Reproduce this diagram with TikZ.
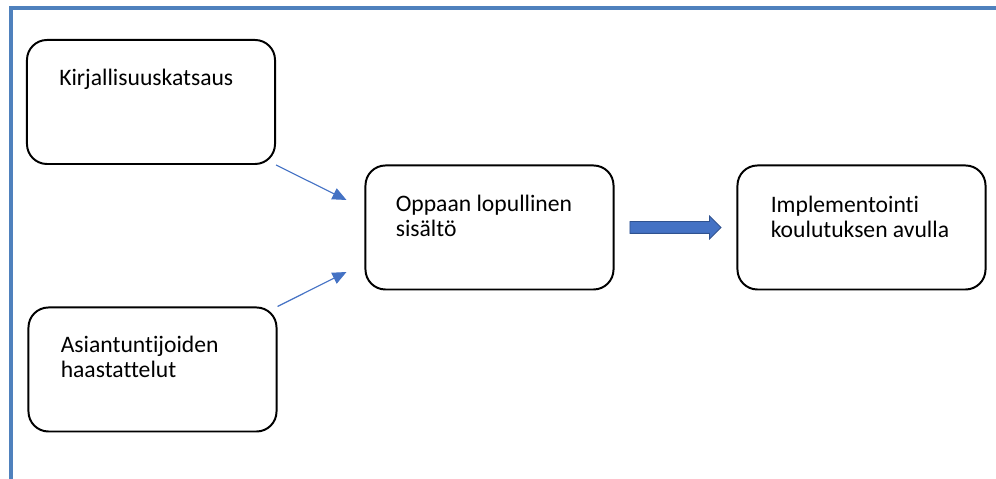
\documentclass[tikz,border=0pt]{standalone}
\usepackage{fontspec}
\setmainfont{Carlito}[Ligatures=NoCommon]
\usetikzlibrary{arrows.meta,shapes.arrows,calc}
\definecolor{frameblue}{HTML}{4F81BD}
\definecolor{arrowblue}{HTML}{4472C4}
\definecolor{edgeblue}{HTML}{2F528F}
\begin{document}
\begin{tikzpicture}[x=0.025cm,y=0.025cm,
        box/.style={draw,line width=1.4pt,rounded corners=0.5cm,minimum width=6.2cm,minimum height=3.1cm,inner sep=0pt},
        txt/.style={anchor=base west,align=left,inner sep=0pt,font=\fontsize{16.8}{17.8}\selectfont},
        thin/.style={arrowblue,line width=0.8pt,-{Triangle[length=0.35cm,width=0.3cm]}}]
            \useasboundingbox (0,0) rectangle (996,479);
            \draw[frameblue,line width=0.1cm] (11,0)--(11,471)--(996,471);
            \node[box] (lit) at (151,377) {};
            \node[box] (int) at (152.5,109.5) {};
            \node[box] (guide) at (489.5,251.5) {};
            \node[box] (impl) at (861.5,251.5) {};
            \node[txt] at ($(lit.north west)+(33,-47)$) {Kirjallisuuskatsaus};
            \node[txt] at ($(int.north west)+(33,-71)$) {Asiantuntijoiden\\haastattelut};
            \node[txt] at ($(guide.north west)+(31,-72)$) {Oppaan lopullinen\\sisältö};
            \node[txt] at ($(impl.north west)+(34,-73)$) {Implementointi\\koulutuksen avulla};
            \coordinate (in1) at ($(guide.west)+(-18,27.5)$);
            \coordinate (in2) at ($(guide.west)+(-18,-44.5)$);
            \draw[thin] (lit.south east)--(in1);
            \draw[thin] (int.north east)--(in2);
            \node[single arrow,fill=arrowblue,draw=edgeblue,line width=0.6pt,inner xsep=0pt,inner ysep=0.1375cm,
                text height=0pt,text depth=0pt,minimum height=2.275cm,single arrow head extend=0.1375cm,anchor=tail]
                (next) at ($(guide.east)+(15,0)$) {};
        \end{tikzpicture}
\end{document}
